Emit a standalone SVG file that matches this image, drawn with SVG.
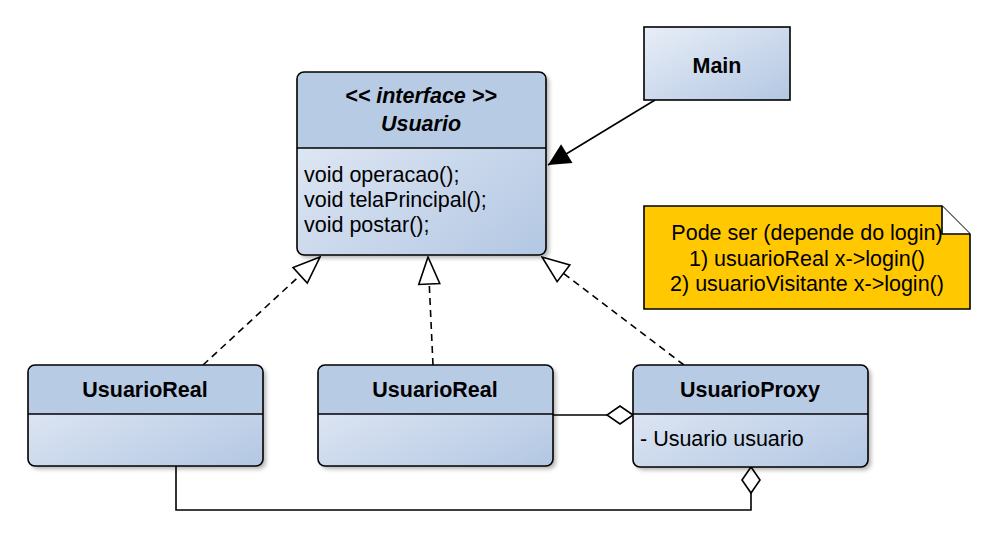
<svg xmlns="http://www.w3.org/2000/svg" width="1000" height="539" viewBox="0 0 1000 539">
<style>
.t{font-family:"Liberation Sans",Arial,sans-serif;font-size:21.5px;fill:#000}
.b{font-weight:bold;font-size:21.5px}
.frame{stroke:#000;stroke-width:1.6}
.ln{fill:none;stroke:#000;stroke-width:1.6}
.dash{fill:none;stroke:#000;stroke-width:1.6;stroke-dasharray:7,5}
</style>
<defs>
<linearGradient id="g" x1="0" y1="0" x2="1" y2="1">
<stop offset="0" stop-color="#e8eef7"/>
<stop offset="1" stop-color="#b3c7e3"/>
</linearGradient>
<filter id="sh" x="-10%" y="-10%" width="130%" height="130%">
<feDropShadow dx="3" dy="3" stdDeviation="2" flood-color="#000" flood-opacity="0.3"/>
</filter>
<marker id="real" markerWidth="30" markerHeight="26" refX="29" refY="13" orient="auto" markerUnits="userSpaceOnUse">
<path d="M29,13 L2,2.5 L2,23.5 Z" fill="#fff" stroke="#000" stroke-width="1.6"/>
</marker>
<marker id="assoc" markerWidth="24" markerHeight="24" refX="23" refY="12" orient="auto" markerUnits="userSpaceOnUse">
<path d="M23,12 L1,1 L1,23 Z" fill="#000"/>
</marker>
<marker id="agg" markerWidth="30" markerHeight="22" refX="28" refY="11" orient="auto" markerUnits="userSpaceOnUse">
<path d="M28,11 L15,2 L2,11 L15,20 Z" fill="#fff" stroke="#000" stroke-width="1.6"/>
</marker>
</defs>

<g id="connectors">
<path class="ln" d="M655,100 L548,165" marker-end="url(#assoc)"/>
<path class="dash" d="M203,365 L320,257" marker-end="url(#real)"/>
<path class="dash" d="M433,365 L428,257" marker-end="url(#real)"/>
<path class="dash" d="M684,365 L542,257" marker-end="url(#real)"/>
<path class="ln" d="M553,415 L633,415" marker-end="url(#agg)"/>
<path class="ln" d="M176,466 L176,510 L751,510 L751,467" marker-end="url(#agg)"/>
</g>

<g id="usuario">
<rect x="297" y="72" width="249" height="183" rx="7" fill="url(#g)" filter="url(#sh)"/>
<path d="M297,148 L297,79 Q297,72 304,72 L539,72 Q546,72 546,79 L546,148 Z" fill="#b8cbe5"/>
<rect class="frame" x="297" y="72" width="249" height="183" rx="7" fill="none"/>
<line class="frame" x1="297" y1="148" x2="546" y2="148"/>
<text class="t b" x="421" y="103" text-anchor="middle" font-style="italic">&lt;&lt; interface &gt;&gt;</text>
<text class="t b" x="421" y="131" text-anchor="middle" font-style="italic">Usuario</text>
<text class="t" x="304" y="182">void operacao();</text>
<text class="t" x="304" y="207">void telaPrincipal();</text>
<text class="t" x="304" y="232">void postar();</text>
</g>

<g id="main">
<rect class="frame" x="644" y="27" width="146" height="73" fill="url(#g)"/>
<text class="t b" x="717" y="73" text-anchor="middle">Main</text>
</g>

<g id="note">
<path class="frame" d="M644,206 L942,206 L970,234 L970,309 L644,309 Z" fill="#ffc800"/>
<path class="frame" d="M942,206 L942,234 L970,234" fill="#fff"/>
<text class="t" x="807" y="240" text-anchor="middle">Pode ser (depende do login)</text>
<text class="t" x="807" y="266" text-anchor="middle">1) usuarioReal x-&gt;login()</text>
<text class="t" x="807" y="291" text-anchor="middle">2) usuarioVisitante x-&gt;login()</text>
</g>

<g id="usuarioReal1">
<rect x="28" y="365" width="235" height="101" rx="7" fill="url(#g)" filter="url(#sh)"/>
<path d="M28,414 L28,372 Q28,365 35,365 L256,365 Q263,365 263,372 L263,414 Z" fill="#b8cbe5"/>
<rect class="frame" x="28" y="365" width="235" height="101" rx="7" fill="none"/>
<line class="frame" x1="28" y1="414" x2="263" y2="414"/>
<text class="t b" x="145" y="397" text-anchor="middle">UsuarioReal</text>
</g>

<g id="usuarioReal2">
<rect x="318" y="365" width="235" height="101" rx="7" fill="url(#g)" filter="url(#sh)"/>
<path d="M318,414 L318,372 Q318,365 325,365 L546,365 Q553,365 553,372 L553,414 Z" fill="#b8cbe5"/>
<rect class="frame" x="318" y="365" width="235" height="101" rx="7" fill="none"/>
<line class="frame" x1="318" y1="414" x2="553" y2="414"/>
<text class="t b" x="435" y="397" text-anchor="middle">UsuarioReal</text>
</g>

<g id="usuarioProxy">
<rect x="633" y="365" width="235" height="102" rx="7" fill="url(#g)" filter="url(#sh)"/>
<path d="M633,414 L633,372 Q633,365 640,365 L861,365 Q868,365 868,372 L868,414 Z" fill="#b8cbe5"/>
<rect class="frame" x="633" y="365" width="235" height="102" rx="7" fill="none"/>
<line class="frame" x1="633" y1="414" x2="868" y2="414"/>
<text class="t b" x="750" y="397" text-anchor="middle">UsuarioProxy</text>
<text class="t" x="640" y="446">- Usuario usuario</text>
</g>
</svg>
